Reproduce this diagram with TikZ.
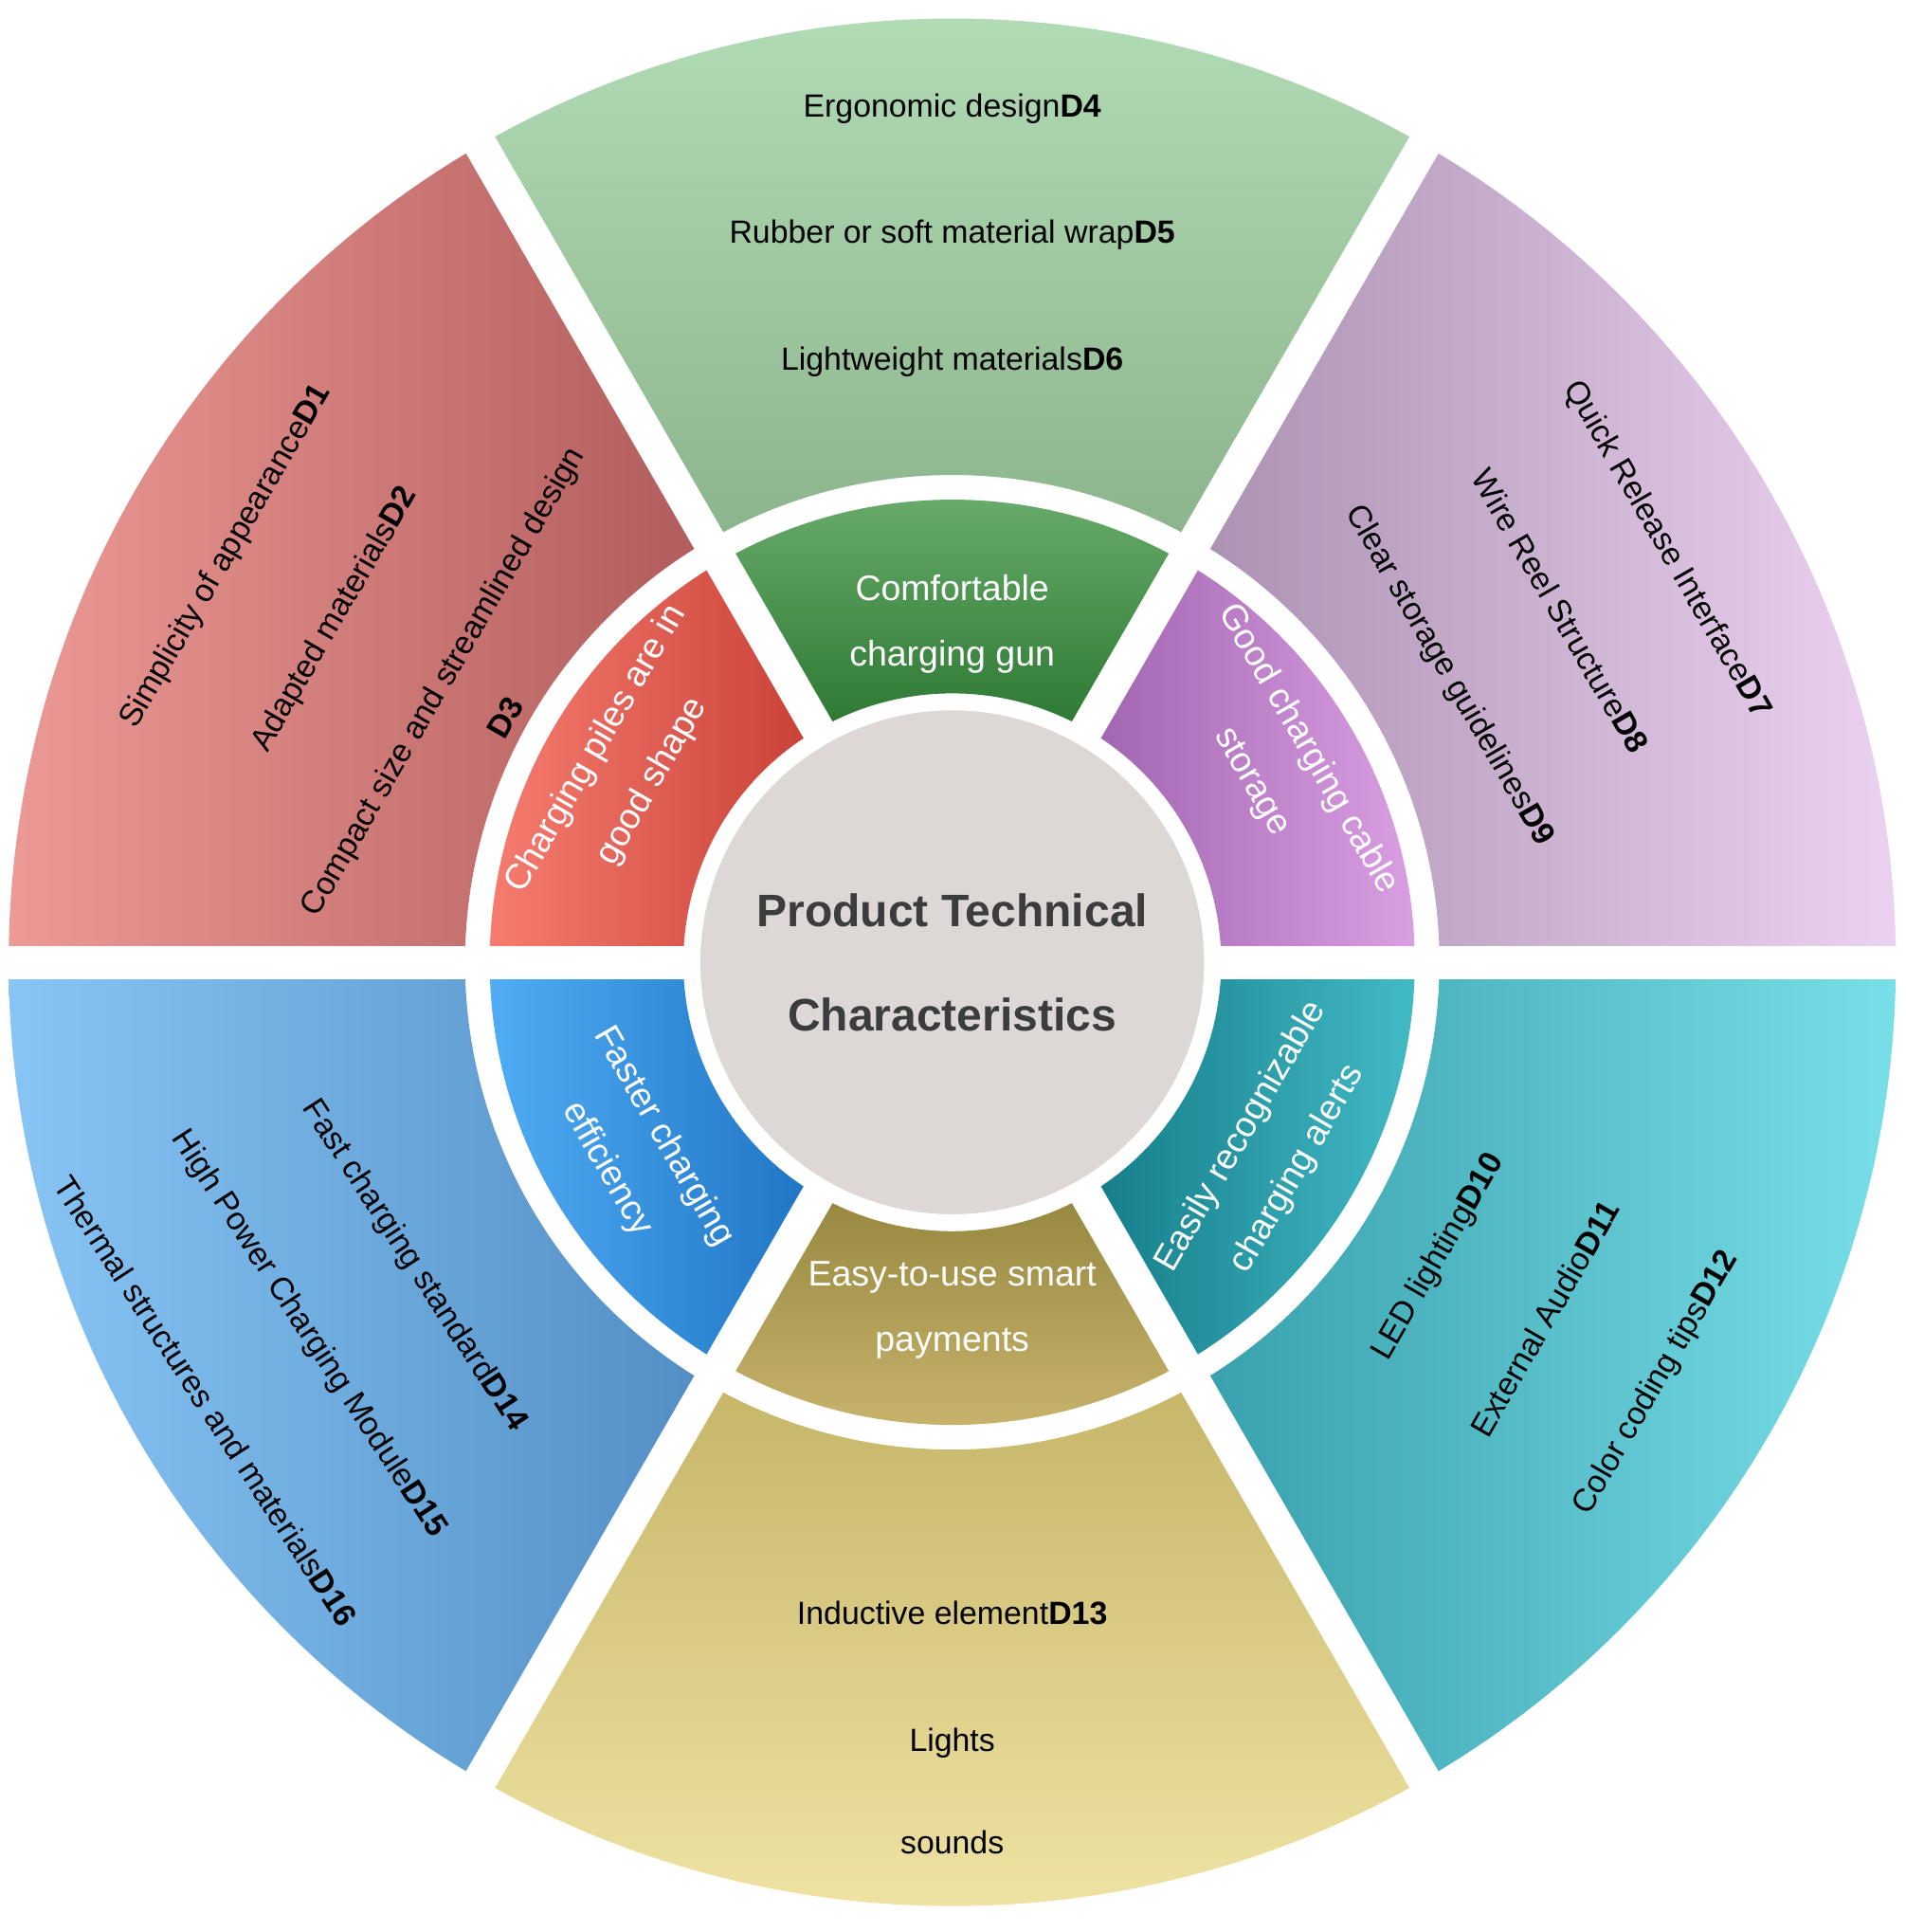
\documentclass[tikz,border=0pt]{standalone}
\usepackage{fontspec}
\setmainfont{Liberation Sans}
\begin{document}
\begin{tikzpicture}[
  ot/.style={font=\fontsize{7.4}{19}\selectfont, align=center, text=black},
  it/.style={font=\fontsize{8.2}{15}\selectfont, align=center, text=white},
  gap/.style={white, line width=0.27cm}]
\useasboundingbox (0,0) rectangle (15.45,15.66);
\fill[white] (0,0) rectangle (15.45,15.66);
\begin{scope}[shift={(7.72,7.86)}]
\def\sector#1#2#3#4{(#1:#3) arc[start angle=#1,end angle=#2,radius=#3] -- (#2:#4) arc[start angle=#2,end angle=#1,radius=#4] -- cycle}
% outer ring
\shade[top color={rgb,255:red,180;green,222;blue,184}, bottom color={rgb,255:red,140;green,180;blue,140}] \sector{60}{120}{3.95}{7.65};
\shade[left color={rgb,255:red,236;green,154;blue,150}, right color={rgb,255:red,176;green,92;blue,92}] \sector{120}{180}{3.95}{7.65};
\shade[left color={rgb,255:red,136;green,197;blue,245}, right color={rgb,255:red,82;green,142;blue,196}] \sector{180}{240}{3.95}{7.65};
\shade[top color={rgb,255:red,198;green,182;blue,104}, bottom color={rgb,255:red,242;green,230;blue,168}] \sector{240}{300}{3.95}{7.65};
\shade[left color={rgb,255:red,56;green,160;blue,172}, right color={rgb,255:red,120;green,222;blue,232}] \sector{300}{360}{3.95}{7.65};
\shade[left color={rgb,255:red,172;green,146;blue,178}, right color={rgb,255:red,234;green,210;blue,240}] \sector{0}{60}{3.95}{7.65};
% middle ring
\shade[top color={rgb,255:red,108;green,174;blue,110}, bottom color={rgb,255:red,44;green,120;blue,50}] \sector{60}{120}{2.18}{3.75};
\shade[left color={rgb,255:red,246;green,124;blue,112}, right color={rgb,255:red,200;green,64;blue,54}] \sector{120}{180}{2.18}{3.75};
\shade[left color={rgb,255:red,80;green,172;blue,244}, right color={rgb,255:red,30;green,116;blue,196}] \sector{180}{240}{2.18}{3.75};
\shade[top color={rgb,255:red,150;green,136;blue,62}, bottom color={rgb,255:red,204;green,182;blue,112}] \sector{240}{300}{2.18}{3.75};
\shade[left color={rgb,255:red,20;green,124;blue,136}, right color={rgb,255:red,66;green,186;blue,198}] \sector{300}{360}{2.18}{3.75};
\shade[left color={rgb,255:red,160;green,100;blue,176}, right color={rgb,255:red,218;green,158;blue,226}] \sector{0}{60}{2.18}{3.75};
% gaps
\foreach \a in {0,60,...,300} \draw[gap] (0,0) -- (\a:7.9);
\node[circle, minimum size=4.12cm, fill={rgb,255:red,221;green,216;blue,214}, draw=white, line width=1pt] (c) at (0,0) {};
\node[font=\bfseries\fontsize{10.5}{24}\selectfont, align=center, text={rgb,255:red,60;green,60;blue,60}] (ct) at (0,0) {Product Technical\\Characteristics};
% outer texts
\node[ot] (g1) at (0,6.92) {Ergonomic design\textbf{D4}};
\node[ot] (g2) at (0,5.90) {Rubber or soft material wrap\textbf{D5}};
\node[ot] (g3) at (0,4.87) {Lightweight materials\textbf{D6}};
\node[ot, rotate=60, font=\fontsize{7.4}{29}\selectfont] (r) at (151:5.45) {Simplicity of appearance\textbf{D1}\\Adapted materials\textbf{D2}\\Compact size and streamlined design\\[-12pt]\textbf{D3}};
\node[ot, rotate=-60, font=\fontsize{7.4}{29}\selectfont] (p) at (30:5.67) {Quick Release Interface\textbf{D7}\\Wire Reel Structure\textbf{D8}\\Clear storage guidelines\textbf{D9}};
\node[ot, rotate=-57, font=\fontsize{7.4}{29}\selectfont] (b) at (210:6.0) {Fast charging standard\textbf{D14}\\High Power Charging Module\textbf{D15}\\Thermal structures and materials\textbf{D16}};
\node[ot, rotate=60, font=\fontsize{7.4}{29}\selectfont] (cy) at (-31:5.63) {LED lighting\textbf{D10}\\External Audio\textbf{D11}\\Color coding tips\textbf{D12}};
\node[ot] (y1) at (0,-5.27) {Inductive element\textbf{D13}};
\node[ot] (y2) at (0,-6.33) {Lights};
\node[ot] (y3) at (0,-7.13) {sounds};
% inner texts
\node[it] (ig) at (0,2.74) {Comfortable\\charging gun};
\node[it] (iy) at (0,-2.82) {Easy-to-use smart\\payments};
\node[it, rotate=60] (ir) at (149:3.1) {Charging piles are in\\good shape};
\node[it, rotate=-60] (ip) at (31:3.1) {Good charging cable\\storage};
\node[it, rotate=-60] (ib) at (211:3.0) {Faster charging\\efficiency};
\node[it, rotate=60] (ic) at (-31:3.0) {Easily recognizable\\charging alerts};
\end{scope}
\end{tikzpicture}
\end{document}
